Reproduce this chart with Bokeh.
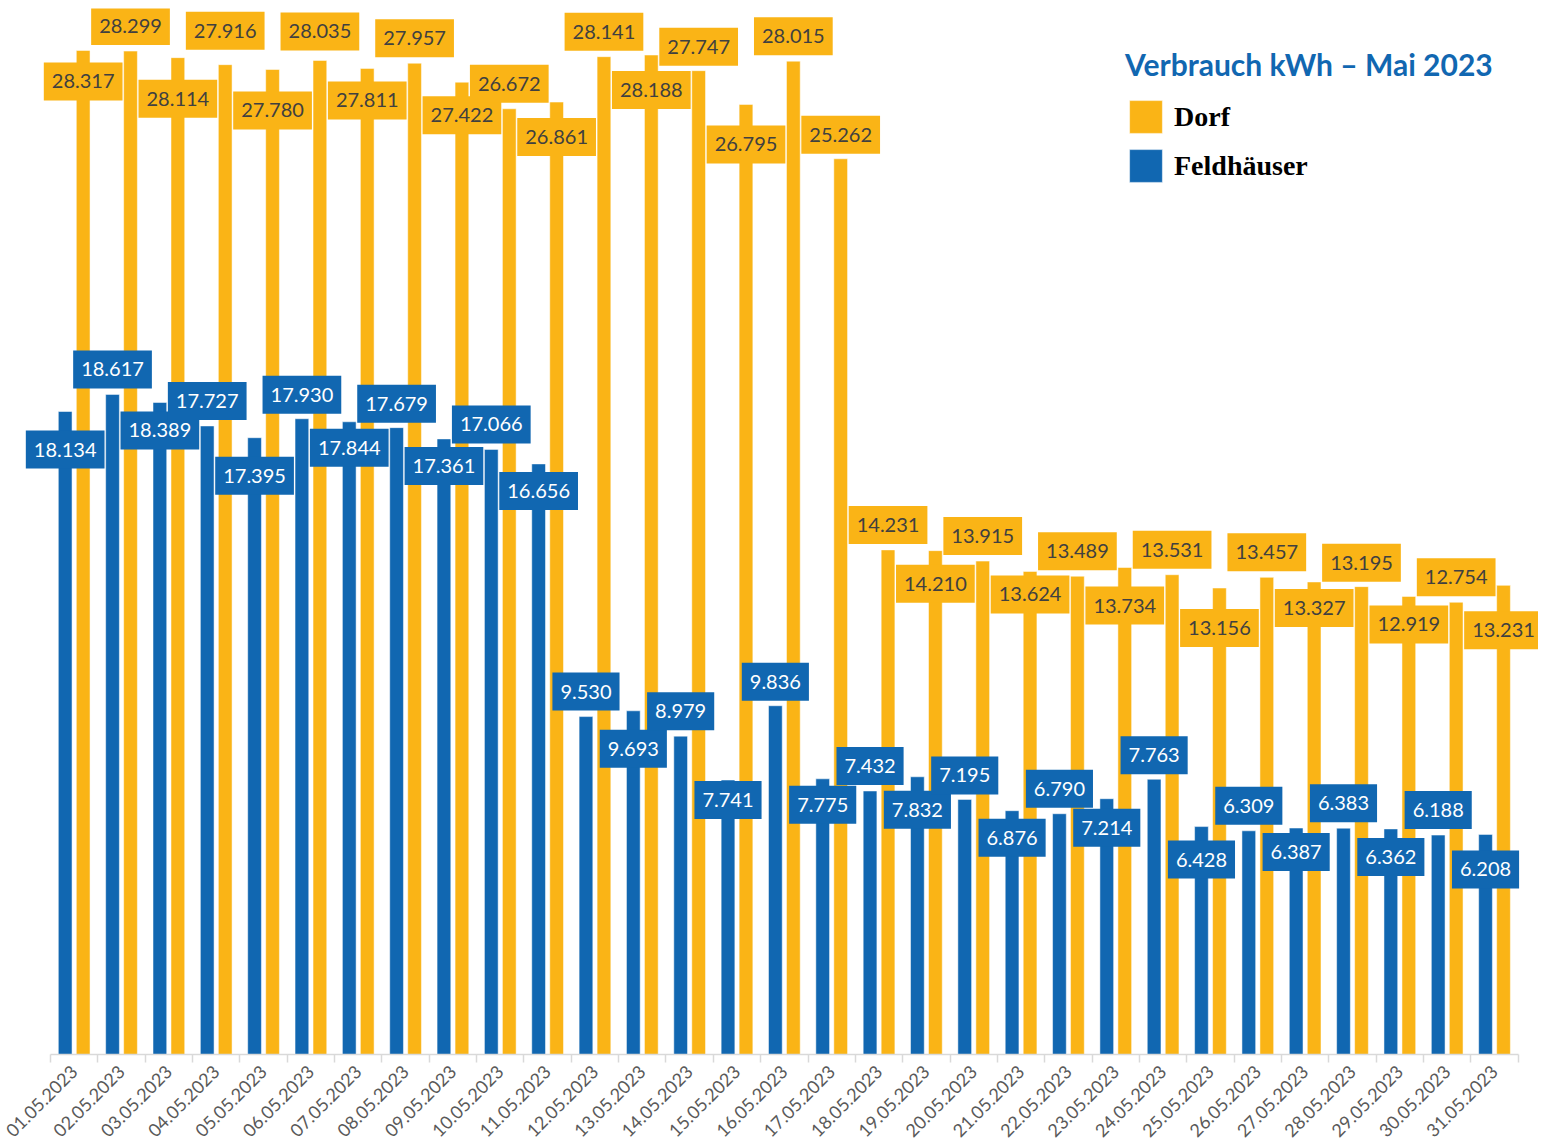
import math
from bokeh.plotting import figure
from bokeh.models import Range1d, FixedTicker, ColumnDataSource, Legend, LegendItem
from bokeh.transform import dodge
from bokeh.core.properties import value
from bokeh.embed import file_html
from bokeh.resources import INLINE

# ---------------- data ----------------
dates = ["01.05.2023", "02.05.2023", "03.05.2023", "04.05.2023", "05.05.2023",
         "06.05.2023", "07.05.2023", "08.05.2023", "09.05.2023", "10.05.2023",
         "11.05.2023", "12.05.2023", "13.05.2023", "14.05.2023", "15.05.2023",
         "16.05.2023", "17.05.2023", "18.05.2023", "19.05.2023", "20.05.2023",
         "21.05.2023", "22.05.2023", "23.05.2023", "24.05.2023", "25.05.2023",
         "26.05.2023", "27.05.2023", "28.05.2023", "29.05.2023", "30.05.2023",
         "31.05.2023"]

dorf = [28317, 28299, 28114, 27916, 27780, 28035, 27811, 27957, 27422, 26672,
        26861, 28141, 28188, 27747, 26795, 28015, 25262, 14231, 14210, 13915,
        13624, 13489, 13734, 13531, 13156, 13457, 13327, 13195, 12919, 12754,
        13231]

feldhaeuser = [18134, 18617, 18389, 17727, 17395, 17930, 17844, 17679, 17361, 17066,
               16656, 9530, 9693, 8979, 7741, 9836, 7775, 7432, 7832, 7195,
               6876, 6790, 7214, 7763, 6428, 6309, 6387, 6383, 6362, 6188,
               6208]

# label placement (screen px offset of the label centre from the bar top)
dorf_label_dy = [31, -25, 41, -34, 41, -29, 32, -25, 33, -25, 35, -25, 35, -24, 40, -25,
                 -24, -25, 33, -25, 23, -25, 38, -25, 40, -25, 26, -24, 28, -25, 45]
feld_label_dy = [38, -25, 28, -25, 38, -24, 26, -24, 27, -25, 27, -25, 38, -25, 20, -24,
                 26, -25, 33, -24, 27, -25, 29, -24, 33, -25, 24, -25, 28, -25, 35]

# ---------------- styles ----------------
BLUE = "#1167B1"
YELLOW = "#FAB416"
DARK = "#404040"

N = len(dates)
PX = 47.345  # pixels per category
x_start = -0.5 - 42 / PX
x_end = N - 0.5 + 20.3 / PX


def fmt(v):
    return f"{v:,}".replace(",", ".")


src = ColumnDataSource(dict(
    idx=list(range(N)),
    dorf=dorf,
    feld=feldhaeuser,
    dorf_lbl=[fmt(v) for v in dorf],
    feld_lbl=[fmt(v) for v in feldhaeuser],
    dorf_dy=dorf_label_dy,
    feld_dy=feld_label_dy,
))

p = figure(width=1538, height=1146,
           x_range=Range1d(x_start, x_end), y_range=Range1d(0, 29500),
           output_backend="svg", toolbar_location=None,
           min_border_left=8, min_border_right=0, min_border_top=8, min_border_bottom=92,
           y_axis_location=None)
p.grid.visible = False
p.outline_line_color = None
p.background_fill_color = "white"
p.border_fill_color = "white"

OFF = 0.19
W = 0.29
r_feld = p.vbar(x=dodge("idx", -OFF, range=p.x_range), top="feld", width=W, source=src,
                fill_color=BLUE, line_color="white", line_alpha=0.5, line_width=1)
r_dorf = p.vbar(x=dodge("idx", OFF, range=p.x_range), top="dorf", width=W, source=src,
                fill_color=YELLOW, line_color="white", line_alpha=0.5, line_width=1)

p.text(x=dodge("idx", OFF, range=p.x_range), y="dorf", text="dorf_lbl", y_offset="dorf_dy",
       source=src, text_align="center", text_baseline="middle",
       text_font=value("Lato"), text_font_size="20px", text_color=DARK,
       background_fill_color=YELLOW, padding=(8, 12))
p.text(x=dodge("idx", -OFF, range=p.x_range), y="feld", text="feld_lbl", y_offset="feld_dy",
       source=src, text_align="center", text_baseline="middle",
       text_font=value("Lato"), text_font_size="20px", text_color="white",
       background_fill_color=BLUE, padding=(8, 12))

# x axis
ax = p.xaxis[0]
ax.ticker = FixedTicker(ticks=list(range(N)), minor_ticks=[i - 0.5 for i in range(N + 1)])
ax.major_label_overrides = {i: d for i, d in enumerate(dates)}
ax.bounds = (-0.5, N - 0.5)
ax.major_label_orientation = math.pi / 4
ax.major_label_text_font = "Lato"
ax.major_label_text_font_size = "18px"
ax.major_label_text_color = "#595959"
ax.major_label_standoff = 6
ax.major_tick_line_color = None
ax.major_tick_out = 0
ax.major_tick_in = 0
ax.minor_tick_line_color = "#D9D9D9"
ax.minor_tick_line_width = 1.5
ax.minor_tick_out = 8
ax.minor_tick_in = 0
ax.axis_line_color = "#D9D9D9"
ax.axis_line_width = 1.5

legend = Legend(
    items=[LegendItem(label="Dorf", renderers=[r_dorf]),
           LegendItem(label="Feldhäuser", renderers=[r_feld])],
    location=(1117, 868),
    title="Verbrauch kWh – Mai 2023",
    title_text_font="Lato", title_text_font_style="bold", title_text_font_size="30px",
    title_text_color=BLUE, title_standoff=14,
    label_text_font="Liberation Serif", label_text_font_style="bold",
    label_text_font_size="28px", label_text_color="black",
    glyph_width=41, glyph_height=41, spacing=8, label_standoff=8,
    padding=0, margin=0, border_line_color=None, background_fill_alpha=0,
)
p.add_layout(legend)

open("out.html", "w").write(file_html(p, INLINE))
